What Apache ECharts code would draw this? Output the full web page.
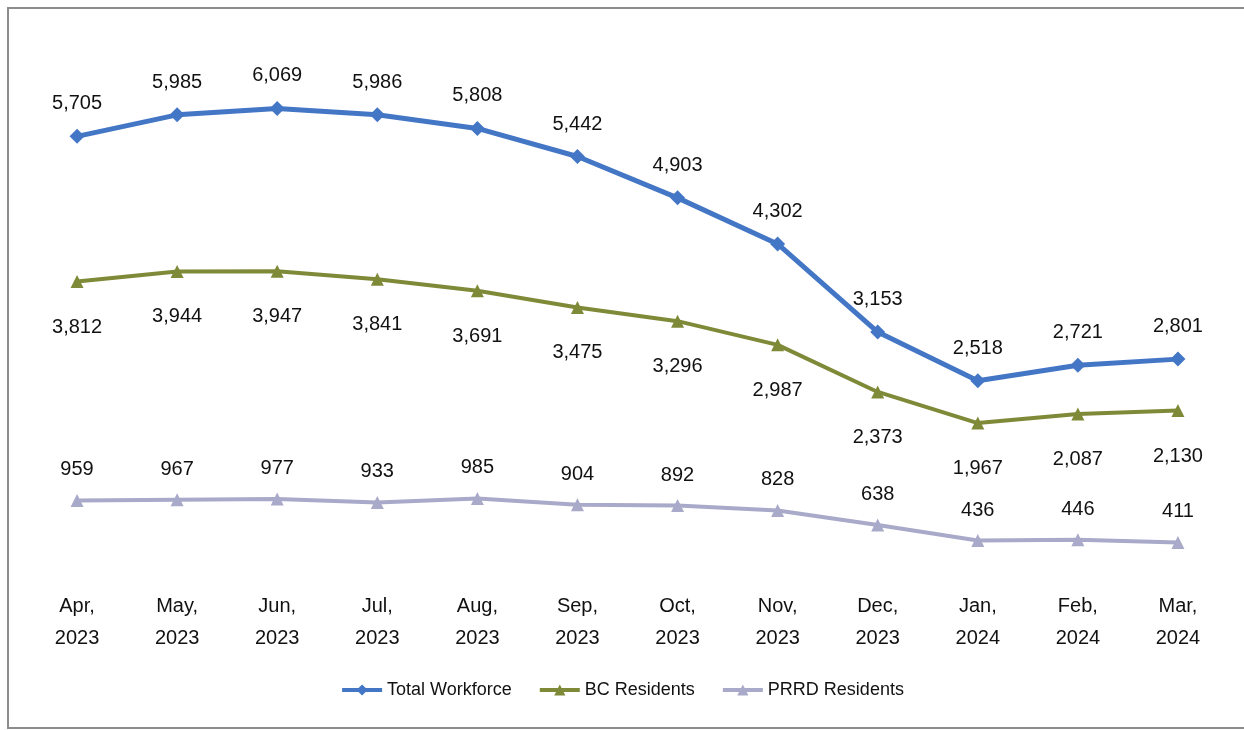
<!DOCTYPE html>
<html>
<head>
<meta charset="utf-8">
<script src="https://cdn.jsdelivr.net/npm/echarts@6/dist/echarts.min.js"></script>
<style>
  html, body { margin: 0; padding: 0; background: #fff; }
  #main { width: 1244px; height: 730px; }
</style>
</head>
<body>
<div id="main"></div>
<script>
// month labels, shown on two lines
var months = ['Apr,\n2023', 'May,\n2023', 'Jun,\n2023', 'Jul,\n2023', 'Aug,\n2023', 'Sep,\n2023',
              'Oct,\n2023', 'Nov,\n2023', 'Dec,\n2023', 'Jan,\n2024', 'Feb,\n2024', 'Mar,\n2024'];

var totalWorkforce = [5705, 5985, 6069, 5986, 5808, 5442, 4903, 4302, 3153, 2518, 2721, 2801];
var bcResidents    = [3812, 3944, 3947, 3841, 3691, 3475, 3296, 2987, 2373, 1967, 2087, 2130];
var prrdResidents  = [959, 967, 977, 933, 985, 904, 892, 828, 638, 436, 446, 411];

var font = '"Liberation Sans", Arial, sans-serif';

function fmt(p) {
    return p.value.toLocaleString('en-US');
}

var myChart = echarts.init(document.getElementById('main'));

myChart.setOption({
    animation: false,
    backgroundColor: '#fff',
    textStyle: { fontFamily: font },
    graphic: [
        {
            type: 'polyline',
            shape: { points: [[1244, 8], [8, 8], [8, 728], [1244, 728]] },
            style: { stroke: '#8c8c8c', lineWidth: 2, fill: null },
            silent: true
        }
    ],
    grid: {
        left: 27,
        right: 16,
        top: 37,
        bottom: 156
    },
    legend: {
        bottom: 26,
        left: 'center',
        itemWidth: 40,
        itemHeight: 14,
        itemGap: 26,
        lineStyle: { width: 4 },
        textStyle: { fontSize: 18, color: '#111', fontFamily: font },
        data: ['Total Workforce', 'BC Residents', 'PRRD Residents']
    },
    xAxis: {
        type: 'category',
        data: months,
        boundaryGap: true,
        axisLine: { show: false },
        axisTick: { show: false },
        axisLabel: {
            color: '#111',
            fontSize: 20,
            lineHeight: 32,
            margin: 16,
            fontFamily: font
        }
    },
    yAxis: {
        type: 'value',
        min: 0,
        max: 7000,
        show: false,
        splitLine: { show: false }
    },
    series: [
        {
            name: 'Total Workforce',
            type: 'line',
            data: totalWorkforce,
            color: '#4476c6',
            symbol: 'diamond',
            symbolSize: 15,
            lineStyle: { width: 5 },
            label: {
                show: true,
                position: 'top',
                distance: 15,
                fontSize: 20,
                color: '#111',
                fontFamily: font,
                formatter: fmt
            }
        },
        {
            name: 'BC Residents',
            type: 'line',
            data: bcResidents,
            color: '#7f8a38',
            symbol: 'triangle',
            symbolSize: 13,
            lineStyle: { width: 4 },
            label: {
                show: true,
                position: 'bottom',
                distance: 29,
                fontSize: 20,
                color: '#111',
                fontFamily: font,
                formatter: fmt
            }
        },
        {
            name: 'PRRD Residents',
            type: 'line',
            data: prrdResidents,
            color: '#a9a9c9',
            symbol: 'triangle',
            symbolSize: 13,
            lineStyle: { width: 4 },
            label: {
                show: true,
                position: 'top',
                distance: 14,
                fontSize: 20,
                color: '#111',
                fontFamily: font,
                formatter: fmt
            }
        }
    ]
});
</script>
</body>
</html>
